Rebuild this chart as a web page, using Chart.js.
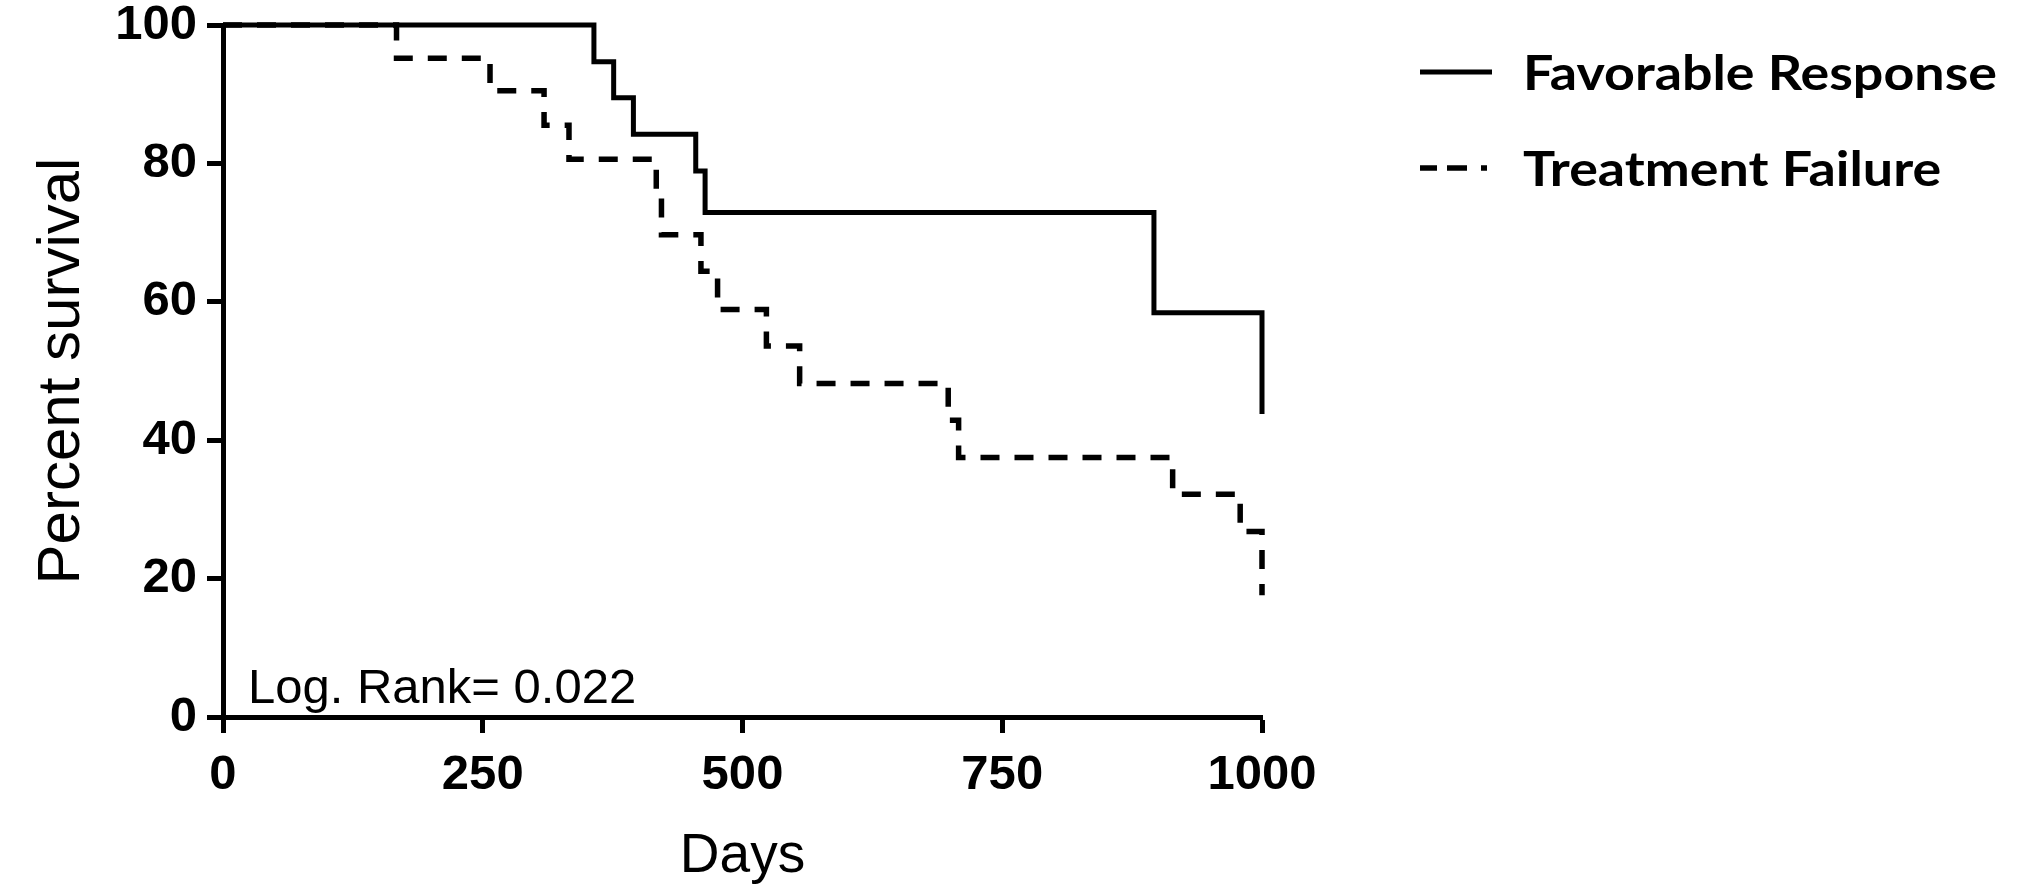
<!DOCTYPE html>
<html>
<head>
<meta charset="utf-8">
<script src="https://cdn.jsdelivr.net/npm/chart.js@4.4.0/dist/chart.umd.min.js"></script>
<style>
    html, body { margin: 0; padding: 0; background: #fff; }
    #wrap { width: 2017px; height: 893px; }
</style>
</head>
<body>
<div id="wrap"><canvas id="survivalChart" width="2017" height="893"></canvas></div>
<script>
// Kaplan-Meier steps (days, percent survival)
const favorableDays = [0, 357, 376, 395, 455, 464, 896, 1000];
const favorableSurvival = [100, 94.7, 89.5, 84.2, 78.9, 72.9, 58.4, 43.8];

const failureDays = [0, 167, 257, 309, 333, 417, 422, 460, 476, 523, 555, 698, 708, 914, 979, 1000];
const failureSurvival = [100, 95.2, 90.5, 85.5, 80.6, 75.1, 69.7, 64.4, 58.9, 53.6, 48.2, 42.9, 37.5, 32.2, 26.8, 17.6];

const seriesNames = ['Favorable Response', 'Treatment Failure'];
const xTickValues = [0, 250, 500, 750, 1000];
const yTickValues = [0, 20, 40, 60, 80, 100];
const logRankText = 'Log. Rank= 0.022';

const baseFont = '"Liberation Sans", Arial, Helvetica, sans-serif';
const legendFont = 'Lato, "Open Sans", "Noto Sans", sans-serif';

function toPoints(xs, ys) {
    return xs.map((x, i) => ({ x: x, y: ys[i] }));
}

// text in the lower left corner of the plot
const logRankPlugin = {
    id: 'logRank',
    afterDraw(chart) {
        const ctx = chart.ctx;
        const area = chart.chartArea;
        ctx.save();
        ctx.font = '49px ' + baseFont;
        ctx.fillStyle = '#000';
        ctx.textBaseline = 'alphabetic';
        ctx.fillText(logRankText, area.left + 25, area.bottom - 14);
        ctx.restore();
    }
};

// legend on the right, drawn from the datasets
const sideLegendPlugin = {
    id: 'sideLegend',
    afterDraw(chart) {
        const ctx = chart.ctx;
        const rows = [72, 168];
        ctx.save();
        ctx.font = 'bold 47px ' + legendFont;
        const squeeze = 474 / ctx.measureText(seriesNames[0]).width;
        chart.data.datasets.forEach((ds, i) => {
            const y = rows[i];
            ctx.beginPath();
            ctx.strokeStyle = ds.borderColor;
            ctx.lineWidth = ds.borderWidth;
            // the sample in the original ends with a short dot
            ctx.setLineDash(ds.borderDash ? [17, 10, 20, 14] : []);
            ctx.moveTo(1420, y);
            ctx.lineTo(i === 0 ? 1492 : 1487, y);
            ctx.stroke();
            ctx.setLineDash([]);
            ctx.fillStyle = '#000';
            ctx.textBaseline = 'alphabetic';
            ctx.save();
            ctx.translate(1523, y + 17.5);
            ctx.scale(squeeze, 1);
            ctx.fillText(ds.label, 0, 0);
            ctx.restore();
        });
        ctx.restore();
    }
};

const ctx = document.getElementById('survivalChart').getContext('2d');
const chart = new Chart(ctx, {
    type: 'line',
    data: {
        datasets: [{
            label: seriesNames[0],
            data: toPoints(favorableDays, favorableSurvival),
            borderColor: '#000',
            borderWidth: 5,
            stepped: 'before',
            pointRadius: 0,
            fill: false,
            clip: false,
            borderCapStyle: 'butt',
            borderJoinStyle: 'miter'
        }, {
            label: seriesNames[1],
            data: toPoints(failureDays, failureSurvival),
            borderColor: '#000',
            borderWidth: 5.5,
            borderDash: [19, 15],
            stepped: 'before',
            pointRadius: 0,
            fill: false,
            clip: false,
            borderCapStyle: 'butt',
            borderJoinStyle: 'miter'
        }]
    },
    options: {
        responsive: false,
        devicePixelRatio: 1,
        animation: false,
        layout: { padding: { top: 25, right: 755, left: 0, bottom: 0 } },
        plugins: {
            legend: { display: false },
            tooltip: { enabled: false }
        },
        scales: {
            x: {
                type: 'linear',
                min: 0,
                max: 1000,
                afterBuildTicks: function(scale) {
                    scale.ticks = xTickValues.map(v => ({ value: v }));
                },
                afterFit: function(scale) {
                    scale.height = 176;
                    scale.paddingLeft = 0;
                    scale.paddingRight = 0;
                },
                grid: {
                    drawOnChartArea: false,
                    drawTicks: true,
                    tickLength: 16,
                    tickWidth: 5,
                    tickColor: '#000'
                },
                border: { display: true, color: '#000', width: 5 },
                ticks: {
                    color: '#000',
                    padding: 13,
                    maxRotation: 0,
                    autoSkip: false,
                    font: { family: baseFont, size: 49, weight: 'bold' },
                    callback: function(value) {
                        return String(value);
                    }
                },
                title: {
                    display: true,
                    text: 'Days',
                    color: '#000',
                    font: { family: baseFont, size: 55 },
                    padding: { top: 0, bottom: 3 }
                }
            },
            y: {
                type: 'linear',
                min: 0,
                max: 100,
                afterBuildTicks: function(scale) {
                    scale.ticks = yTickValues.map(v => ({ value: v }));
                },
                afterFit: function(scale) {
                    scale.width = 223;
                    scale.paddingTop = 0;
                    scale.paddingBottom = 0;
                },
                grid: {
                    drawOnChartArea: false,
                    drawTicks: true,
                    tickLength: 16,
                    tickWidth: 5,
                    tickColor: '#000'
                },
                border: { display: true, color: '#000', width: 5 },
                ticks: {
                    color: '#000',
                    padding: 10,
                    autoSkip: false,
                    font: { family: baseFont, size: 49, weight: 'bold' },
                    callback: function(value) {
                        return String(value);
                    }
                },
                title: {
                    display: true,
                    text: 'Percent survival',
                    color: '#000',
                    font: { family: baseFont, size: 60 },
                    padding: { top: 26, bottom: 0 }
                }
            }
        }
    },
    plugins: [logRankPlugin, sideLegendPlugin]
});
</script>
</body>
</html>
